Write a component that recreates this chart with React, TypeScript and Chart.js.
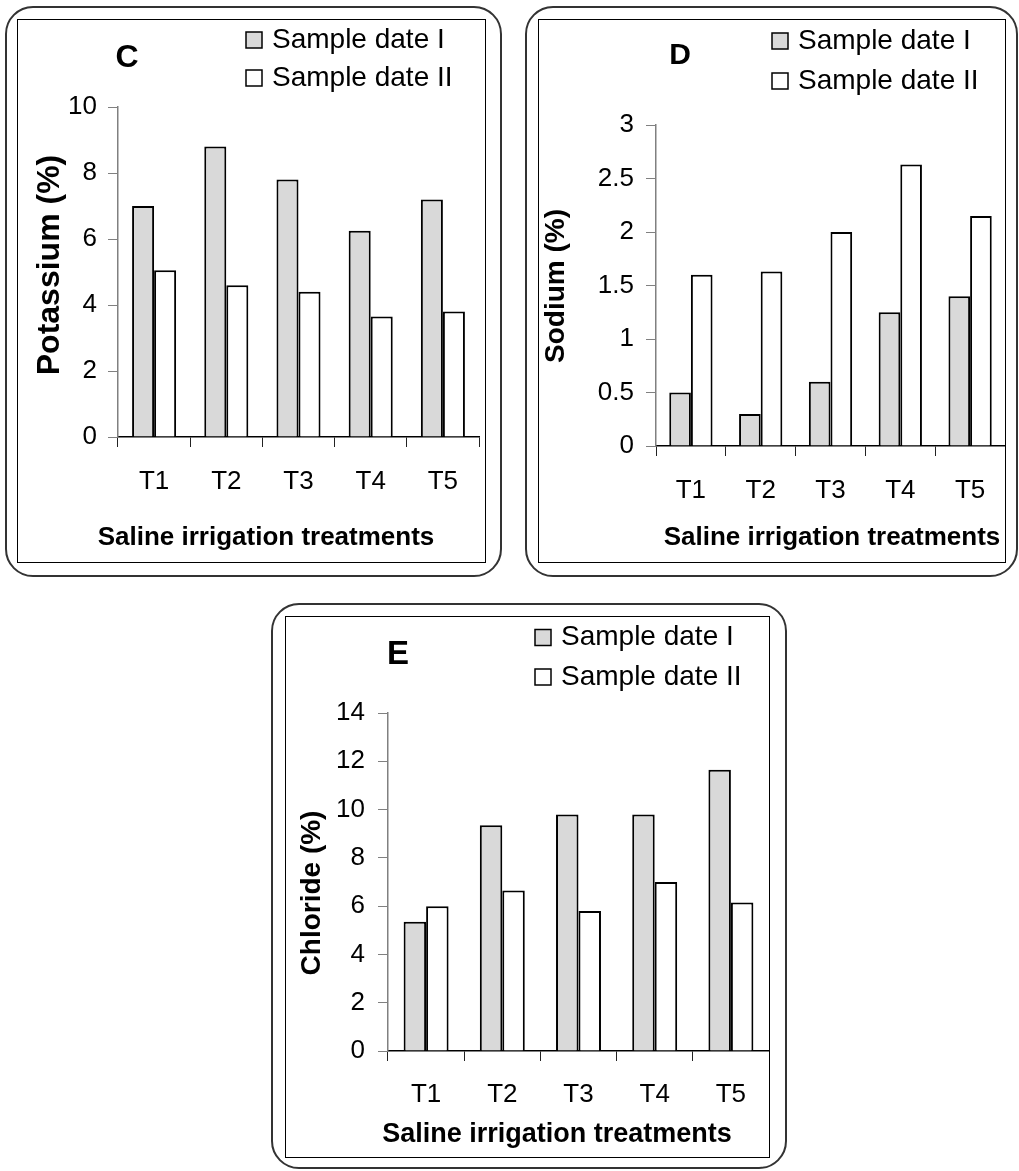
import React, { useEffect, useRef } from 'react';
import { Chart, registerables } from 'chart.js';

Chart.register(...registerables);

// ---------------- data ----------------
const categories = ['T1', 'T2', 'T3', 'T4', 'T5'];
const seriesLabels = ['Sample date I', 'Sample date II'];

const potassiumDate1 = [7.0, 8.8, 7.8, 6.25, 7.2];
const potassiumDate2 = [5.05, 4.6, 4.4, 3.65, 3.8];
const potassiumTicks = [0, 2, 4, 6, 8, 10];

const sodiumDate1 = [0.5, 0.3, 0.6, 1.25, 1.4];
const sodiumDate2 = [1.6, 1.63, 2.0, 2.63, 2.15];
const sodiumTicks = [0, 0.5, 1, 1.5, 2, 2.5, 3];

const chlorideDate1 = [5.35, 9.35, 9.8, 9.8, 11.65];
const chlorideDate2 = [6.0, 6.65, 5.8, 7.0, 6.15];
const chlorideTicks = [0, 2, 4, 6, 8, 10, 12, 14];

// ---------------- styling ----------------
const FONT = "'Liberation Sans', Arial, Helvetica, sans-serif";
const GRAY_FILL = '#d9d9d9';
const WHITE_FILL = '#ffffff';

type PanelCfg = {
  letter: string;
  letterSize: number;
  letterX: number;
  letterY: number;
  legendX: number;
  legendY: number;
  legendGap: number;
  xTitle: string;
  xTitleSize: number;
  xTitleX: number;
  xTitleY: number;
  yTitle: string;
  yTitleSize: number;
  yTitleX: number;
  yTitleY: number;
  d1: number[];
  d2: number[];
  ticks: number[];
  catPct: number;
  yWidth: number;
  xHeight: number;
  padTop: number;
  padRight: number;
  yTickPad: number;
  xTickPad: number;
  outer: { left: number; top: number; width: number; height: number };
  inner: { left: number; top: number; width: number; height: number };
};

function makeDecor(d: PanelCfg) {
  return {
    id: 'decor',
    afterDraw(chart: any) {
      const ctx = chart.ctx as CanvasRenderingContext2D;
      ctx.save();
      ctx.fillStyle = '#000';
      ctx.textBaseline = 'middle';
      // panel letter
      ctx.textAlign = 'center';
      ctx.font = `bold ${d.letterSize}px ${FONT}`;
      ctx.fillText(d.letter, d.letterX, d.letterY);
      // legend
      chart.data.datasets.forEach((ds: any, i: number) => {
        const cy = d.legendY + i * d.legendGap;
        ctx.fillStyle = ds.backgroundColor;
        ctx.fillRect(d.legendX, cy - 8, 16, 16);
        ctx.lineWidth = 1.5;
        ctx.strokeStyle = '#000';
        ctx.strokeRect(d.legendX, cy - 8, 16, 16);
        ctx.fillStyle = '#000';
        ctx.font = `28px ${FONT}`;
        ctx.textAlign = 'left';
        ctx.fillText(ds.label, d.legendX + 26, cy);
      });
      // x title
      ctx.textAlign = 'center';
      ctx.font = `bold ${d.xTitleSize}px ${FONT}`;
      ctx.fillText(d.xTitle, d.xTitleX, d.xTitleY);
      // y title
      ctx.translate(d.yTitleX, d.yTitleY);
      ctx.rotate(-Math.PI / 2);
      ctx.font = `bold ${d.yTitleSize}px ${FONT}`;
      ctx.fillText(d.yTitle, 0, 0);
      ctx.restore();
    },
  };
}

function Panel({ cfg }: { cfg: PanelCfg }) {
  const ref = useRef<HTMLCanvasElement | null>(null);
  const w = cfg.inner.width - 2;
  const h = cfg.inner.height - 2;

  useEffect(() => {
    if (!ref.current) return;
    const ticks = cfg.ticks;
    const chart = new Chart(ref.current, {
      type: 'bar',
      data: {
        labels: categories,
        datasets: [
          {
            label: seriesLabels[0],
            data: cfg.d1,
            backgroundColor: GRAY_FILL,
            borderColor: '#000',
            borderWidth: 2,
            barPercentage: 1,
            categoryPercentage: cfg.catPct,
          },
          {
            label: seriesLabels[1],
            data: cfg.d2,
            backgroundColor: WHITE_FILL,
            borderColor: '#000',
            borderWidth: 2,
            barPercentage: 1,
            categoryPercentage: cfg.catPct,
          },
        ],
      },
      options: {
        responsive: false,
        animation: false,
        devicePixelRatio: 1,
        layout: { padding: { top: cfg.padTop, right: cfg.padRight, left: 0, bottom: 0 } },
        plugins: { legend: { display: false }, tooltip: { enabled: false }, title: { display: false } },
        scales: {
          x: {
            ticks: { font: { family: FONT, size: 26 }, color: '#000', padding: cfg.xTickPad },
            grid: { display: true, drawOnChartArea: false, drawTicks: true, tickLength: 10, color: '#222', offset: true },
            border: { display: true, color: '#000', width: 1.5 },
            afterFit: (s: any) => {
              s.height = cfg.xHeight;
            },
          },
          y: {
            min: ticks[0],
            max: ticks[ticks.length - 1],
            ticks: {
              stepSize: ticks[1] - ticks[0],
              font: { family: FONT, size: 26 },
              color: '#000',
              padding: cfg.yTickPad,
              callback: (v: any) => String(v),
            },
            grid: { display: true, drawOnChartArea: false, drawTicks: true, tickLength: 10, color: '#808080' },
            border: { display: true, color: '#808080', width: 1.5 },
            afterFit: (s: any) => {
              s.width = cfg.yWidth;
            },
          },
        },
      },
      plugins: [makeDecor(cfg)],
    } as any);
    return () => chart.destroy();
  }, []);

  return (
    <>
      <div
        style={{
          position: 'absolute',
          left: cfg.outer.left,
          top: cfg.outer.top,
          width: cfg.outer.width,
          height: cfg.outer.height,
          boxSizing: 'border-box',
          border: '2.5px solid #333',
          borderRadius: 28,
        }}
      />
      <div
        style={{
          position: 'absolute',
          left: cfg.inner.left,
          top: cfg.inner.top,
          width: cfg.inner.width,
          height: cfg.inner.height,
          boxSizing: 'border-box',
          border: '1px solid #000',
          background: '#fff',
        }}
      >
        <canvas ref={ref} width={w} height={h} style={{ display: 'block', width: w, height: h }} />
      </div>
    </>
  );
}

const panelC: PanelCfg = {
  letter: 'C', letterSize: 32, letterX: 109, letterY: 38,
  legendX: 228, legendY: 20, legendGap: 38,
  xTitle: 'Saline irrigation treatments', xTitleSize: 26, xTitleX: 248, xTitleY: 518,
  yTitle: 'Potassium (%)', yTitleSize: 32, yTitleX: 32, yTitleY: 245,
  d1: potassiumDate1, d2: potassiumDate2, ticks: potassiumTicks,
  catPct: 0.61, yWidth: 100, xHeight: 125, padTop: 87, padRight: 6, yTickPad: 11, xTickPad: 19,
  outer: { left: 5, top: 6, width: 497, height: 571 },
  inner: { left: 17, top: 19, width: 469, height: 544 },
};

const panelD: PanelCfg = {
  letter: 'D', letterSize: 30, letterX: 141, letterY: 36,
  legendX: 233, legendY: 21, legendGap: 40,
  xTitle: 'Saline irrigation treatments', xTitleSize: 26, xTitleX: 293, xTitleY: 518,
  yTitle: 'Sodium (%)', yTitleSize: 28, yTitleX: 17, yTitleY: 266,
  d1: sodiumDate1, d2: sodiumDate2, ticks: sodiumTicks,
  catPct: 0.62, yWidth: 117, xHeight: 116, padTop: 105, padRight: 0, yTickPad: 12, xTickPad: 19,
  outer: { left: 525, top: 6, width: 493, height: 571 },
  inner: { left: 538, top: 19, width: 468, height: 544 },
};

const panelE: PanelCfg = {
  letter: 'E', letterSize: 33, letterX: 112, letterY: 38,
  legendX: 249, legendY: 20.5, legendGap: 39.5,
  xTitle: 'Saline irrigation treatments', xTitleSize: 27, xTitleX: 271, xTitleY: 518,
  yTitle: 'Chloride (%)', yTitleSize: 28, yTitleX: 26, yTitleY: 276,
  d1: chlorideDate1, d2: chlorideDate2, ticks: chlorideTicks,
  catPct: 0.59, yWidth: 102, xHeight: 106, padTop: 96, padRight: 0, yTickPad: 13, xTickPad: 18,
  outer: { left: 271, top: 603, width: 516, height: 566 },
  inner: { left: 285, top: 616, width: 485, height: 542 },
};

export default function App() {
  return (
    <div style={{ position: 'absolute', left: 0, top: 0, width: 1019, height: 1171, background: '#fff', overflow: 'hidden' }}>
      <Panel cfg={panelC} />
      <Panel cfg={panelD} />
      <Panel cfg={panelE} />
    </div>
  );
}
